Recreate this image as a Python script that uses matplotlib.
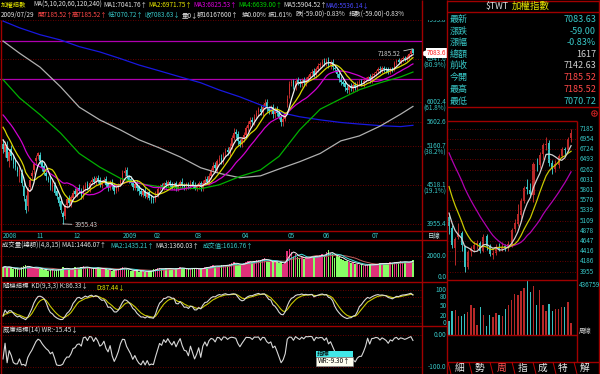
import numpy as np
import pandas as pd
import matplotlib
matplotlib.use('Agg')
import matplotlib.pyplot as plt
from matplotlib import font_manager as fm
from matplotlib.patches import Rectangle
from matplotlib.transforms import offset_copy

_names = {f.name for f in fm.fontManager.ttflist}
if 'Liberation Sans Narrow' in _names:
    plt.rcParams['font.family'] = ['Liberation Sans Narrow', 'Noto Sans CJK TC', 'DejaVu Sans']
    FS = 5.2
else:
    plt.rcParams['font.family'] = ['Noto Sans CJK TC', 'DejaVu Sans']
    FS = 4.6
plt.rcParams['axes.unicode_minus'] = False

# ------------------------------------------------------------------ data
closes = [
    5100, 5200, 4950, 5050, 4980, 4850, 4800, 4720, 4750, 4550,
    4350, 4150, 4450, 4600, 4700, 4850, 4950, 5030, 4900, 4800,
    4720, 4650, 4600, 4500, 4550, 4400, 4350, 4250, 4150, 4050,
    4200, 4300, 4250, 4330, 4400, 4380, 4450, 4420, 4350, 4480,
    4520, 4470, 4550, 4600, 4560, 4620, 4580, 4530, 4560, 4600,
    4520, 4480, 4550, 4500, 4430, 4470, 4520, 4590, 4700, 4740,
    4650, 4600, 4550, 4480, 4530, 4470, 4420, 4380, 4420, 4350,
    4400, 4320, 4300, 4290, 4380, 4460, 4500, 4480, 4540, 4510,
    4560, 4520, 4490, 4530, 4470, 4520, 4560, 4500, 4480, 4520,
    4490, 4550, 4510, 4470, 4500, 4540, 4480, 4550, 4600, 4570,
    4650, 4750, 4820, 4780, 4900, 4950, 4920, 5020, 5080, 5050,
    5150, 5300, 5400, 5380, 5250, 5200, 5280, 5350, 5480, 5550,
    5620, 5600, 5700, 5780, 5850, 5800, 5900, 5980, 5870, 5820,
    5880, 5760, 5840, 5780, 5700, 5600, 5650, 5750, 6050, 6380,
    6420, 6330, 6450, 6420, 6380, 6450, 6400, 6480, 6520, 6600,
    6650, 6580, 6700, 6780, 6820, 6880, 6850, 6900, 6800, 6850,
    6750, 6700, 6600, 6500, 6420, 6380, 6300, 6250, 6320, 6280,
    6350, 6300, 6380, 6420, 6380, 6450, 6480, 6520, 6470, 6560,
    6600, 6650, 6700, 6680, 6720, 6700, 6690, 6650, 6700, 6700,
    6850, 6900, 6880, 6920, 6960, 6952, 6980, 7050, 7142.63, 7083.63]
opens = [
    5200, 5050, 5150, 4900, 5100, 4950, 4900, 4780, 4650, 4700,
    4500, 4300, 4200, 4480, 4650, 4750, 4900, 4980, 5000, 4880,
    4820, 4700, 4620, 4620, 4480, 4520, 4420, 4330, 4280, 4100,
    4060, 4220, 4320, 4230, 4320, 4420, 4370, 4470, 4430, 4360,
    4470, 4530, 4460, 4560, 4610, 4550, 4630, 4590, 4520, 4570,
    4610, 4530, 4470, 4560, 4510, 4420, 4460, 4530, 4600, 4710,
    4760, 4640, 4610, 4560, 4470, 4540, 4480, 4430, 4370, 4430,
    4340, 4410, 4330, 4310, 4290, 4370, 4470, 4510, 4470, 4550,
    4500, 4570, 4530, 4480, 4540, 4460, 4510, 4570, 4510, 4470,
    4530, 4480, 4560, 4520, 4460, 4490, 4550, 4470, 4540, 4610,
    4560, 4660, 4760, 4830, 4770, 4910, 4960, 4910, 5030, 5090,
    5040, 5160, 5310, 5420, 5370, 5240, 5190, 5290, 5360, 5490,
    5560, 5640, 5610, 5710, 5790, 5860, 5790, 5910, 5990, 5860,
    5810, 5890, 5750, 5850, 5770, 5690, 5590, 5660, 5990, 6150,
    6390, 6430, 6320, 6460, 6410, 6370, 6460, 6390, 6490, 6530,
    6610, 6660, 6570, 6710, 6790, 6830, 6890, 6840, 6910, 6790,
    6860, 6740, 6690, 6590, 6490, 6410, 6390, 6290, 6240, 6330,
    6270, 6360, 6290, 6390, 6430, 6370, 6460, 6490, 6530, 6460,
    6570, 6610, 6660, 6710, 6670, 6730, 6710, 6700, 6640, 6720,
    6710, 6860, 6910, 6870, 6930, 6970, 6940, 6990, 7060, 7185.52]
upper_wick = [
    80, 40, 90, 50, 70, 60, 50, 40, 60, 70,
    60, 70, 30, 40, 50, 40, 50, 30, 60, 40,
    50, 30, 40, 40, 50, 40, 30, 40, 50, 40,
    30, 40, 50, 30, 40, 50, 30, 60, 40, 30,
    40, 50, 30, 40, 50, 30, 40, 50, 30, 40,
    50, 30, 40, 50, 30, 40, 30, 40, 50, 60,
    40, 30, 40, 30, 40, 50, 30, 40, 30, 50,
    30, 40, 30, 40, 50, 40, 30, 40, 30, 40,
    40, 30, 40, 30, 40, 30, 40, 50, 30, 40,
    30, 40, 30, 40, 30, 40, 30, 40, 50, 40,
    50, 40, 60, 50, 40, 50, 60, 40, 50, 60,
    70, 60, 80, 50, 60, 50, 40, 60, 50, 60,
    70, 60, 50, 60, 50, 70, 60, 80, 70, 60,
    50, 60, 50, 60, 70, 50, 60, 50, 80, 60,
    70, 60, 50, 60, 70, 50, 60, 50, 60, 50,
    60, 70, 50, 60, 50, 60, 70, 60, 80, 60,
    70, 60, 70, 60, 50, 60, 50, 60, 50, 60,
    50, 60, 50, 60, 50, 60, 50, 40, 60, 50,
    50, 40, 50, 60, 50, 40, 50, 60, 50, 40,
    50, 40, 50, 40, 50, 40, 50, 40, 30, 0]
lower_wick = [
    60, 80, 50, 90, 60, 70, 50, 60, 80, 50,
    80, 40, 60, 50, 40, 60, 50, 40, 50, 60,
    40, 50, 40, 60, 50, 40, 50, 40, 50, 94.57,
    40, 50, 30, 40, 50, 30, 40, 30, 40, 50,
    40, 30, 50, 40, 30, 40, 30, 40, 50, 30,
    40, 50, 30, 40, 50, 30, 40, 30, 40, 50,
    40, 50, 30, 40, 30, 40, 50, 30, 40, 30,
    40, 30, 50, 40, 30, 40, 30, 40, 30, 40,
    30, 40, 30, 40, 50, 30, 40, 30, 40, 30,
    40, 30, 40, 30, 40, 30, 50, 40, 30, 40,
    40, 50, 40, 60, 50, 40, 60, 50, 40, 50,
    50, 60, 50, 70, 80, 60, 50, 60, 50, 60,
    50, 60, 70, 60, 80, 60, 70, 60, 80, 70,
    60, 80, 70, 60, 50, 70, 60, 50, 90, 80,
    60, 70, 80, 60, 70, 60, 70, 60, 70, 60,
    70, 60, 70, 60, 50, 60, 70, 60, 70, 80,
    60, 70, 80, 90, 70, 60, 70, 60, 70, 60,
    70, 60, 70, 60, 50, 60, 50, 60, 70, 60,
    50, 60, 50, 60, 50, 60, 70, 60, 50, 60,
    50, 60, 50, 40, 50, 60, 40, 50, 60, 12.91]
volumes = [
    900, 1000, 850, 950, 800, 750, 700, 800, 650, 900,
    1000, 1100, 950, 850, 800, 900, 850, 800, 750, 700,
    650, 700, 600, 650, 700, 600, 650, 700, 750, 900,
    800, 750, 700, 750, 800, 900, 850, 800, 950, 1000,
    900, 850, 800, 750, 800, 850, 900, 750, 700, 800,
    750, 650, 700, 600, 650, 700, 750, 800, 900, 850,
    700, 650, 600, 550, 600, 650, 500, 550, 600, 500,
    450, 550, 600, 700, 750, 800, 850, 700, 750, 800,
    850, 750, 700, 750, 800, 850, 900, 800, 750, 700,
    750, 800, 850, 800, 750, 700, 800, 850, 900, 950,
    900, 1000, 1100, 1050, 950, 1000, 1100, 1150, 1000, 1100,
    1200, 1300, 1350, 1250, 1150, 1100, 1200, 1300, 1400, 1450,
    1500, 1350, 1450, 1550, 1600, 1500, 1700, 1800, 1500, 1400,
    1450, 1350, 1500, 1400, 1300, 1350, 1250, 1400, 2400, 2600,
    2300, 2000, 2100, 1900, 1800, 1850, 1700, 1750, 1800, 1900,
    2000, 1850, 1900, 2000, 2050, 2100, 1950, 2300, 2500, 2200,
    2100, 1800, 2000, 1900, 1700, 1600, 1500, 1450, 1400, 1300,
    1350, 1250, 1200, 1150, 1100, 1050, 1100, 1150, 1200, 1100,
    1150, 1200, 1250, 1300, 1250, 1200, 1300, 1250, 1350, 1300,
    1400, 1350, 1400, 1450, 1400, 1420, 1380, 1350, 1450, 1616.76]
prior_closes = [6100, 6050, 6000, 5980, 5950, 6020, 5960, 5900, 5880, 5860,
                5850, 5800, 5700, 5680, 5635, 5450, 5350, 5280, 5155]
ma_days = [0, 8, 18, 28, 37, 47, 57, 66, 76, 86, 96, 105, 115, 125, 134,
           144, 154, 164, 173, 183, 193, 199]
ma60_vals = [6470, 6080, 5740, 5390, 5030, 4800, 4620, 4540, 4490, 4470, 4460,
             4520, 4650, 4755, 4980, 5450, 5850, 6060, 6250, 6400, 6530, 6639.00]
ma120_vals = [7380, 7080, 6750, 6310, 5890, 5640, 5450, 5270, 5125, 4970, 4790,
              4700, 4630, 4660, 4770, 4890, 5030, 5250, 5340, 5520, 5750, 5904.52]
ma240_vals = [7900, 7720, 7540, 7405, 7240, 7110, 6950, 6800, 6665, 6530, 6400,
              6245, 6100, 5935, 5790, 5700, 5640, 5590, 5560, 5530, 5512, 5536.14]
guide_levels = [7382, 6482]
price_ticks = [7935.8, 6947.6, 6002.4, 5602.6, 5160.7, 4518.1, 3955.4]
price_pct = ['', '(80.9%)', '(61.8%)', '', '(38.2%)', '(19.1%)', '']
date_labels = ['2008', '11', '12', '2009', '02', '03', '04', '05', '06', '07']
date_days = [0, 16, 34, 58, 73, 93, 116, 138, 155, 179]
vol_ticks = [2000.0, 0.0]
kd_ticks = [100, 80, 50, 20, 0]
wr_ticks = [0.0, -100.0]
kd_init = [20.0, 20.0]
prior_week_closes = [7900, 7800, 7700, 7600, 7500, 7300, 7200, 7100, 7000, 6900,
                     6900, 6700, 6500, 6300, 6000, 5700, 5550, 5250, 4920]
week_volumes = [114000, 197000, 205000, 157000, 157000, 170000, 183000, 245000, 218000, 83000,
                223000, 164000, 76000, 164000, 148000, 179000, 164000, 157000, 210000, 245000,
                280000, 332000, 328000, 360000, 382000, 436759, 345000, 393000, 240000, 367000,
                245000, 197000, 251000, 192000, 214000, 207000, 223000, 229000, 266000, 96000]
week_ticks = [7185, 6954, 6724, 6493, 6262, 6031, 5801, 5570, 5339, 5109,
              4878, 4647, 4416, 4186, 3955]
quote_names = ['最新', '漲跌', '漲幅', '總額', '前收', '今開', '最高', '最低']
quote_values = ['7083.63', '-59.00', '-0.83%', '1617', '7142.63', '7185.52', '7185.52', '7070.72']
quote_colors = ['c', 'c', 'c', 'w', 'w', 'r', 'r', 'c']
buttons = ['細', '勢', '周', '指', '成', '特', '解']

# ------------------------------------------------------------------ derived
o = np.array(opens, float); c = np.array(closes, float)
hi = np.maximum(o, c) + np.array(upper_wick, float)
lo = np.minimum(o, c) - np.array(lower_wick, float)
v = np.array(volumes, float)
n = len(c); days = np.arange(n)
allc = pd.Series(prior_closes + closes, dtype=float)
ma5 = allc.rolling(5).mean().values[-n:]
ma10 = allc.rolling(10).mean().values[-n:]
ma20 = allc.rolling(20).mean().values[-n:]
vs = pd.Series(v)
vma4 = vs.rolling(4, min_periods=1).mean().values
vma8 = vs.rolling(8, min_periods=1).mean().values
vma15 = vs.rolling(15, min_periods=1).mean().values
hs, ls, cs = pd.Series(hi), pd.Series(lo), pd.Series(c)
l9 = ls.rolling(9, min_periods=1).min(); h9 = hs.rolling(9, min_periods=1).max()
rsv = ((cs - l9) / (h9 - l9) * 100).values
K = np.zeros(n); D = np.zeros(n)
k, d = kd_init
for i in range(n):
    k = k * 2 / 3 + rsv[i] / 3
    d = d * 2 / 3 + k / 3
    K[i], D[i] = k, d
h14 = hs.rolling(14, min_periods=1).max(); l14 = ls.rolling(14, min_periods=1).min()
wr = (-(h14 - cs) / (h14 - l14) * 100).values

df = pd.DataFrame({'o': o, 'h': hi, 'l': lo, 'c': c, 'w': days // 5})
wk = df.groupby('w').agg(o=('o', 'first'), h=('h', 'max'), l=('l', 'min'), c=('c', 'last'))
nw = len(wk); wd = np.arange(nw)
wall = pd.Series(prior_week_closes + list(wk.c.values))
wma5 = wall.rolling(5).mean().values[-nw:]
wma10 = wall.rolling(10).mean().values[-nw:]
wma20 = wall.rolling(20).mean().values[-nw:]

# ------------------------------------------------------------------ style
CY = '#38c8c8'; WH = '#e0e0e0'; RD = '#ff4848'; YE = '#e8e800'; MG = '#e000e0'
GR = '#00d000'; BL = '#4848ff'; BRD = '#a00000'; GRID = '#8a0000'
UPC = '#d03030'; DNC = '#40d0d0'
colmap = {'c': CY, 'w': '#d0d0d0', 'r': RD}

W, H = 600, 374
fig = plt.figure(figsize=(6, 3.74), dpi=100, facecolor='black')


def mk(x0, y0, x1, y1, z=1):
    ax = fig.add_axes([x0 / W, 1 - y1 / H, (x1 - x0) / W, (y1 - y0) / H], zorder=z)
    ax.set_facecolor('black')
    for s in ax.spines.values():
        s.set_visible(False)
    ax.tick_params(which='both', left=False, bottom=False, right=False, top=False,
                   labelleft=False, labelbottom=False)
    return ax


XL = (-3 / 2.06, (422 - 3) / 2.06)
PYL = (3861, 7928)
dot = (0, (1, 2))

# main price panel
axp = mk(0, 20, 422, 231)
axp.set_yscale('log'); axp.set_ylim(PYL); axp.set_xlim(XL)
axp.tick_params(which='both', left=False, bottom=False, labelleft=False, labelbottom=False)
for t in price_ticks:
    axp.axhline(t, color=GRID, lw=0.6, ls=dot)
for g in guide_levels:
    axp.axhline(g, color='#b000b0', lw=0.9)
up = c >= o
cols = np.where(up, UPC, DNC)
axp.vlines(days, lo, hi, colors=cols, lw=0.6)
axp.bar(days, np.abs(c - o), bottom=np.minimum(o, c), width=0.75, color=cols, lw=0)
axp.plot(ma_days, ma240_vals, color='#1818e0', lw=0.9)
axp.plot(ma_days, ma120_vals, color='#b0b0b0', lw=0.9)
axp.plot(ma_days, ma60_vals, color='#00b000', lw=0.9)
axp.plot(days, ma20, color='#d000d0', lw=0.9)
axp.plot(days, ma10, color='#d8d800', lw=0.9)
axp.plot(days, ma5, color='#f0f0f0', lw=0.9)
imax = int(np.argmax(hi)); imin = int(np.argmin(lo))
axp.annotate(f'{hi[imax]:.2f}', xy=(imax, hi[imax]), xytext=(-12, -5), textcoords='offset pixels',
             color='#c8c8c8', fontsize=FS, ha='right', va='center',
             arrowprops=dict(arrowstyle='-', color='#c8c8c8', lw=0.6, shrinkA=0, shrinkB=0))
axp.annotate(f'{lo[imin]:.2f}', xy=(imin, lo[imin]), xytext=(12, -1), textcoords='offset pixels',
             color='#c8c8c8', fontsize=FS, ha='left', va='center',
             arrowprops=dict(arrowstyle='-', color='#c8c8c8', lw=0.6, shrinkA=0, shrinkB=0))

# price label column
axl = mk(422, 20, 447, 231)
axl.set_yscale('log'); axl.set_ylim(PYL); axl.set_xlim(0, 25)
axl.tick_params(which='both', left=False, bottom=False, labelleft=False, labelbottom=False)
tr_low = offset_copy(axl.transData, fig=fig, x=0, y=-7, units='dots')
for t, p in zip(price_ticks, price_pct):
    axl.text(24.5, t, f'{t:.1f}', color=CY, fontsize=FS, ha='right', va='center', clip_on=True)
    if p:
        axl.text(1, t, p, color=CY, fontsize=FS, ha='left', va='center', clip_on=True,
                 transform=tr_low)
axl.plot([1.2], [c[-1]], marker='<', color='white', ms=3.5, clip_on=True)
axl.text(24.5, c[-1], f'{c[-1]:.1f}', color='#ff2020', fontsize=FS, ha='right', va='center',
         clip_on=True, bbox=dict(boxstyle='square,pad=0.15', fc='white', ec='none'))

# date row
axd = mk(0, 231, 422, 240)
axd.set_xlim(XL); axd.set_ylim(0, 1)
for dday, lab in zip(date_days, date_labels):
    axd.text(dday, 0.45, lab, color=CY, fontsize=FS, ha='left', va='center')

# volume panel
axv = mk(0, 240, 422, 282)
axv.set_xlim(XL); axv.set_ylim(-465, 3442)
axv.axhline(vol_ticks[0], color=GRID, lw=0.6, ls=dot)
axv.bar(days, v, width=0.8, color=np.where(up, '#e0307a', '#88ff66'), lw=0)
axv.plot(days, vma15, color='#c06060', lw=0.7)
axv.plot(days, vma8, color='#40e0e0', lw=0.7)
axv.plot(days, vma4, color='#f0f0f0', lw=0.7)
axvl = mk(422, 240, 447, 282)
axvl.set_ylim(-465, 3442); axvl.set_xlim(0, 25)
for t in vol_ticks:
    axvl.text(24.5, t, f'{t:.1f}', color=CY, fontsize=FS, ha='right', va='center', clip_on=True)

# KD panel
axk = mk(0, 282, 422, 326)
axk.set_xlim(XL); axk.set_ylim(-9, 124)
for t in kd_ticks:
    axk.axhline(t, color=GRID, lw=0.6, ls=dot)
axk.plot(days, D, color='#c8c800', lw=0.8)
axk.plot(days, K, color='#d8d8d8', lw=0.8)
axkl = mk(422, 282, 447, 326)
axkl.set_ylim(-9, 124); axkl.set_xlim(0, 25)
for t in kd_ticks:
    axkl.text(24.5, t, f'{t}', color=CY, fontsize=FS, ha='right', va='center', clip_on=True)

# WR panel
axw = mk(0, 326, 422, 374)
axw.set_xlim(XL); axw.set_ylim(-122, 28)
for t in wr_ticks:
    axw.axhline(t, color=GRID, lw=0.6, ls=dot)
axw.plot(days, wr, color='#d8d8d8', lw=0.8)
axwl = mk(422, 326, 447, 374)
axwl.set_ylim(-122, 28); axwl.set_xlim(0, 25)
axwl.text(24.5, wr_ticks[0], f'{wr_ticks[0]:.2f}', color=CY, fontsize=FS, ha='right', va='center')
axwl.text(24.5, wr_ticks[1], f'{wr_ticks[1]:.1f}', color=CY, fontsize=FS, ha='right', va='center')

# weekly chart
WXL = (-0.64, 40.9)
WYL = (3767, 7373)
axwk = mk(447, 120.5, 577, 280)
axwk.set_xlim(WXL); axwk.set_ylim(WYL)
for t in week_ticks:
    axwk.axhline(t, color=GRID, lw=0.6, ls=dot)
wup = wk.c.values >= wk.o.values
wcol = np.where(wup, '#b82828', '#38c0c0')
axwk.vlines(wd, wk.l.values, wk.h.values, colors=wcol, lw=0.7)
axwk.bar(wd, np.abs(wk.c.values - wk.o.values), bottom=np.minimum(wk.o.values, wk.c.values),
         width=0.65, color=wcol, lw=0)
axwk.plot(wd, wma20, color='#b000b0', lw=0.9)
axwk.plot(wd, wma10, color='#c8c800', lw=0.9)
axwk.plot(wd, wma5, color='#d0d0d0', lw=0.9)
axwkl = mk(577, 120.5, 600, 280)
axwkl.set_ylim(WYL); axwkl.set_xlim(0, 23)
for t in week_ticks:
    axwkl.text(3, t, f'{t}', color=CY, fontsize=FS, ha='left', va='center', clip_on=True)

axwv = mk(447, 280, 577, 335)
axwv.set_xlim(WXL); axwv.set_ylim(0, max(week_volumes) * 1.02)
axwv.bar(wd, week_volumes, width=0.45, color=wcol, lw=0)

# ------------------------------------------------------------------ overlay (pixel coords)
ov = fig.add_axes([0, 0, 1, 1], zorder=10)
ov.set_xlim(0, W); ov.set_ylim(H, 0); ov.axis('off')


def T(x, y, s, col, fs=FS, ha='left', va='center'):
    ov.text(x, y, s, color=col, fontsize=fs, ha=ha, va=va)


def L(xs, ys, col=BRD, lw=1.0):
    ov.plot(xs, ys, color=col, lw=lw, solid_capstyle='butt')


# borders
L([1, 1], [20, 374]); L([421.5, 421.5], [0, 374]); L([447, 447], [0, 374])
L([598.5, 598.5], [0, 374])
for yy in [231, 240, 282, 326]:
    L([1, 447], [yy, yy])
L([447, 599], [0.5, 0.5]); L([447, 599], [11.5, 11.5]); L([447, 599], [106.5, 106.5])
L([447, 577], [120.5, 120.5]); L([447, 577], [280, 280]); L([447, 577], [335, 335])
L([577, 577], [120.5, 362]); L([447, 599], [362, 362])
ov.plot([594], [112.5], marker='o', ms=4, mfc='none', mec='#c02020', mew=0.8)
ov.plot([594], [112.5], marker='+', ms=3, mec='#c02020', mew=0.6)

# header
for x, s, col in [(1, '加權指數', YE), (33, 'MA(5,10,20,60,120,240)', WH), (103, 'MA1:7041.76↑', WH),
                  (148, 'MA2:6971.75↑', YE), (193, 'MA3:6825.53↑', MG), (238, 'MA4:6639.00↑', GR),
                  (283, 'MA5:5904.52↑', WH), (325, 'MA6:5536.14↓', BL)]:
    T(x, 5, s, col)
for x, s, col in [(1, '2009/07/29', WH), (37, '開7185.52↑', RD), (72, '高7185.52↑', RD),
                  (108, '低7070.72↑', CY), (145, '收7083.63↓', CY), (182, '量0↓', WH),
                  (197, '額16167600↑', WH), (242, '換0.00%', WH), (268, '振1.61%', WH),
                  (296, '跌(-59.00)-0.83%', WH), (349, '指數(-59.00)-0.83%', WH)]:
    T(x, 15, s, col)

T(434.5, 235.5, '日線', '#c8e8e8', ha='center')

# volume / KD / WR titles
for x, s, col in [(2, '成交量(總額)(4,8,15) MA1:1446.07↑', WH), (110, 'MA2:1435.21↑', CY),
                  (155, 'MA3:1360.03↑', WH), (203, '成交值:1616.76↑', CY)]:
    T(x, 245.5, s, col)
T(3, 287, '隨機指標  KD(9,3,3) K:86.33↓', WH)
T(96, 287, 'D:87.44↓', YE)
T(3, 330.5, '威廉指標(14) WR:-15.45↓', WH)

# tooltip
ov.add_patch(Rectangle((316, 350.5), 37, 6.5, fc='#40e8e8', ec='none'))
ov.add_patch(Rectangle((316, 357), 37, 8.5, fc='#fffff0', ec='#909090', lw=0.4))
T(317, 353.7, '指標', 'black')
T(318, 361.2, 'WR:-9.30↑', 'black')

# right panel quote table
T(509, 6, '$TWT', WH, fs=6.3, ha='right')
T(512, 6, '加權指數', YE, fs=6.8)
row_y = [19, 31, 42.7, 54, 65.7, 77.3, 89.3, 101]
for yy, nm, val, cc in zip(row_y, quote_names, quote_values, quote_colors):
    T(450, yy, nm, CY, fs=6.5)
    T(596, yy, val, colmap[cc], fs=6.5, ha='right')

T(578.5, 285, f'{max(week_volumes):.0f}', CY)
T(579, 331, '周線', '#d0d0d0')

# buttons
bx = [460, 479, 502, 523, 543, 563, 585]
for x, s in zip(bx, buttons):
    T(x, 368, s, '#ff5050' if s == '周' else '#e8e8e8', fs=7, ha='center')
for x in [448, 469, 490, 512, 533, 553, 574]:
    L([x, x + 3], [362, 374], col='#c00000', lw=0.7)

fig.savefig('out.png', dpi=100, facecolor='black')
